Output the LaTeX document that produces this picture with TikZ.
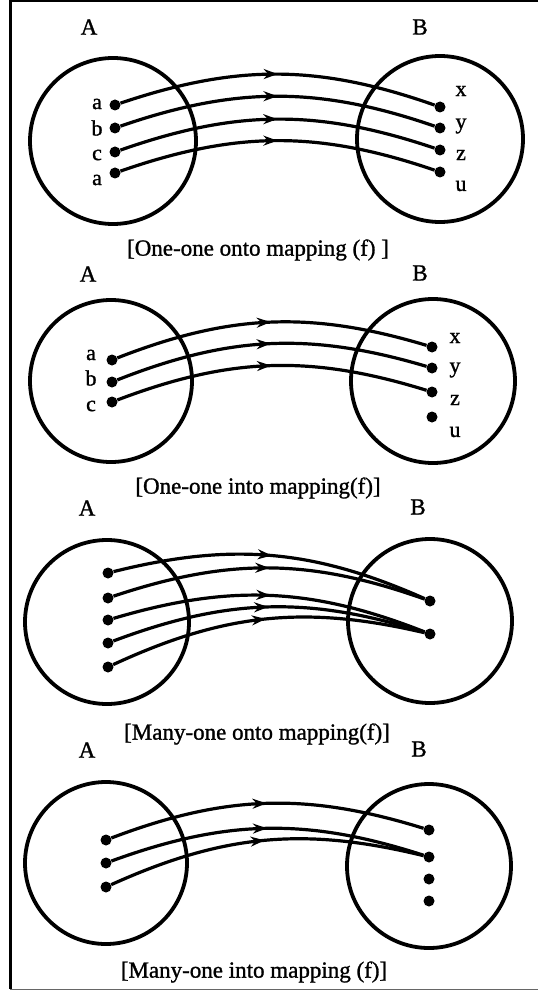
\documentclass[tikz,border=0pt]{standalone}
\usepackage{fontspec}
\setmainfont{Liberation Serif}[BoldFont=Liberation Serif, BoldFeatures={FakeBold=1.2}]
\usetikzlibrary{decorations.markings,arrows.meta}
\begin{document}
\begin{tikzpicture}[x=1pt,y=-1pt,
  setc/.style={draw, line width=3.8pt, circle, minimum size=#1, inner sep=0pt},
  elem/.style={circle, fill, inner sep=0pt, minimum size=11pt},
  lbl/.style={font=\fontsize{22}{22}\selectfont\bfseries, inner sep=0pt},
  setname/.style={font=\fontsize{23}{23}\selectfont\bfseries, inner sep=0pt},
  captext/.style={font=\fontsize{23}{23}\selectfont\bfseries, inner sep=0pt},
  conn/.style={line width=3.2pt, postaction={decorate},
    decoration={markings, mark=at position 0.5 with {\arrow{Stealth[length=14pt,width=10pt]}}}},
  frameline/.style={line width=3pt},
]
\useasboundingbox (0,0) rectangle (538,992);
% frame
\coordinate (fTL) at (10,1);
\coordinate (fTR) at (538,1);
\coordinate (fBL) at (10,989);
\coordinate (fBR) at (538,989);
\draw[frameline] (fTR) -- (fTL) -- (fBL);
\draw[line width=1pt, black!60] (fBL) -- (fBR);

% ---------- Panel 1 ----------
\node[setname] (A1) at (89,27) {A};
\node[setname] (B1) at (420,27) {B};
\node[setc=166pt] (CA1) at (113,141) {};
\node[setc=166pt] (CB1) at (440,139) {};
\node[elem] (p1l1) at (115,105) {};
\node[elem] (p1l2) at (115,128) {};
\node[elem] (p1l3) at (115,152) {};
\node[elem] (p1l4) at (115,173) {};
\node[lbl] (t1l1) at (97,104) {a};
\node[lbl] (t1l2) at (97,128) {b};
\node[lbl] (t1l3) at (97,155) {c};
\node[lbl] (t1l4) at (97,180) {a};
\node[elem] (p1r1) at (440,107) {};
\node[elem] (p1r2) at (440,128) {};
\node[elem] (p1r3) at (440,150) {};
\node[elem] (p1r4) at (440,172) {};
\node[lbl] (t1r1) at (461,91) {x};
\node[lbl] (t1r2) at (461,126) {y};
\node[lbl] (t1r3) at (461,155) {z};
\node[lbl] (t1r4) at (461,186) {u};
\draw[conn] (p1l1) to[bend left=19] (p1r1);
\draw[conn] (p1l2) to[bend left=19] (p1r2);
\draw[conn] (p1l3) to[bend left=19] (p1r3);
\draw[conn] (p1l4) to[bend left=19] (p1r4);
\node[captext] (cap1) at (258,250) {[One-one onto mapping (f) ]};

% ---------- Panel 2 ----------
\node[setname] (A2) at (88,274) {A};
\node[setname] (B2) at (420,273) {B};
\node[setc=162pt] (CA2) at (111,381) {};
\node[setc=164pt] (CB2) at (433,381) {};
\node[elem] (p2l1) at (112,360) {};
\node[elem] (p2l2) at (112,382) {};
\node[elem] (p2l3) at (112,402) {};
\node[lbl] (t2l1) at (91,355) {a};
\node[lbl] (t2l2) at (91,378) {b};
\node[lbl] (t2l3) at (91,406) {c};
\node[elem] (p2r1) at (432,347) {};
\node[elem] (p2r2) at (432,368) {};
\node[elem] (p2r3) at (432,392) {};
\node[elem] (p2r4) at (432,417) {};
\node[lbl] (t2r1) at (455,338) {x};
\node[lbl] (t2r2) at (455,370) {y};
\node[lbl] (t2r3) at (455,400) {z};
\node[lbl] (t2r4) at (455,432) {u};
\draw[conn] (p2l1) to[bend left=19] (p2r1);
\draw[conn] (p2l2) to[bend left=19] (p2r2);
\draw[conn] (p2l3) to[bend left=19] (p2r3);
\node[captext] (cap2) at (258,488) {[One-one into mapping(f)]};

% ---------- Panel 3 ----------
\node[setname] (A3) at (87,508) {A};
\node[setname] (B3) at (418,507) {B};
\node[setc=164pt] (CA3) at (107,622) {};
\node[setc=164pt] (CB3) at (430,621) {};
\node[elem] (p3l1) at (108,573) {};
\node[elem] (p3l2) at (108,598) {};
\node[elem] (p3l3) at (108,620) {};
\node[elem] (p3l4) at (108,643) {};
\node[elem] (p3l5) at (108,667) {};
\node[elem] (p3r1) at (430,601) {};
\node[elem] (p3r2) at (430,634) {};
\draw[conn] (p3l1) to[bend left=19] (p3r1);
\draw[conn] (p3l2) to[bend left=19] (p3r1);
\draw[conn] (p3l3) to[bend left=19] (p3r2);
\draw[conn] (p3l4) to[bend left=19] (p3r2);
\draw[conn] (p3l5) to[bend left=19] (p3r2);
\node[captext] (cap3) at (257,734) {[Many-one onto mapping(f)]};

% ---------- Panel 4 ----------
\node[setname] (A4) at (87,750) {A};
\node[setname] (B4) at (419,749) {B};
\node[setc=162pt] (CA4) at (106,863) {};
\node[setc=164pt] (CB4) at (429,866) {};
\node[elem] (p4l1) at (106,840) {};
\node[elem] (p4l2) at (106,863) {};
\node[elem] (p4l3) at (106,887) {};
\node[elem] (p4r1) at (429,830) {};
\node[elem] (p4r2) at (429,857) {};
\node[elem] (p4r3) at (429,879) {};
\node[elem] (p4r4) at (429,901) {};
\draw[conn] (p4l1) to[bend left=19] (p4r1);
\draw[conn] (p4l2) to[bend left=19] (p4r2);
\draw[conn] (p4l3) to[bend left=19] (p4r2);
\node[captext] (cap4) at (254,972) {[Many-one into mapping (f)]};
\end{tikzpicture}
\end{document}
